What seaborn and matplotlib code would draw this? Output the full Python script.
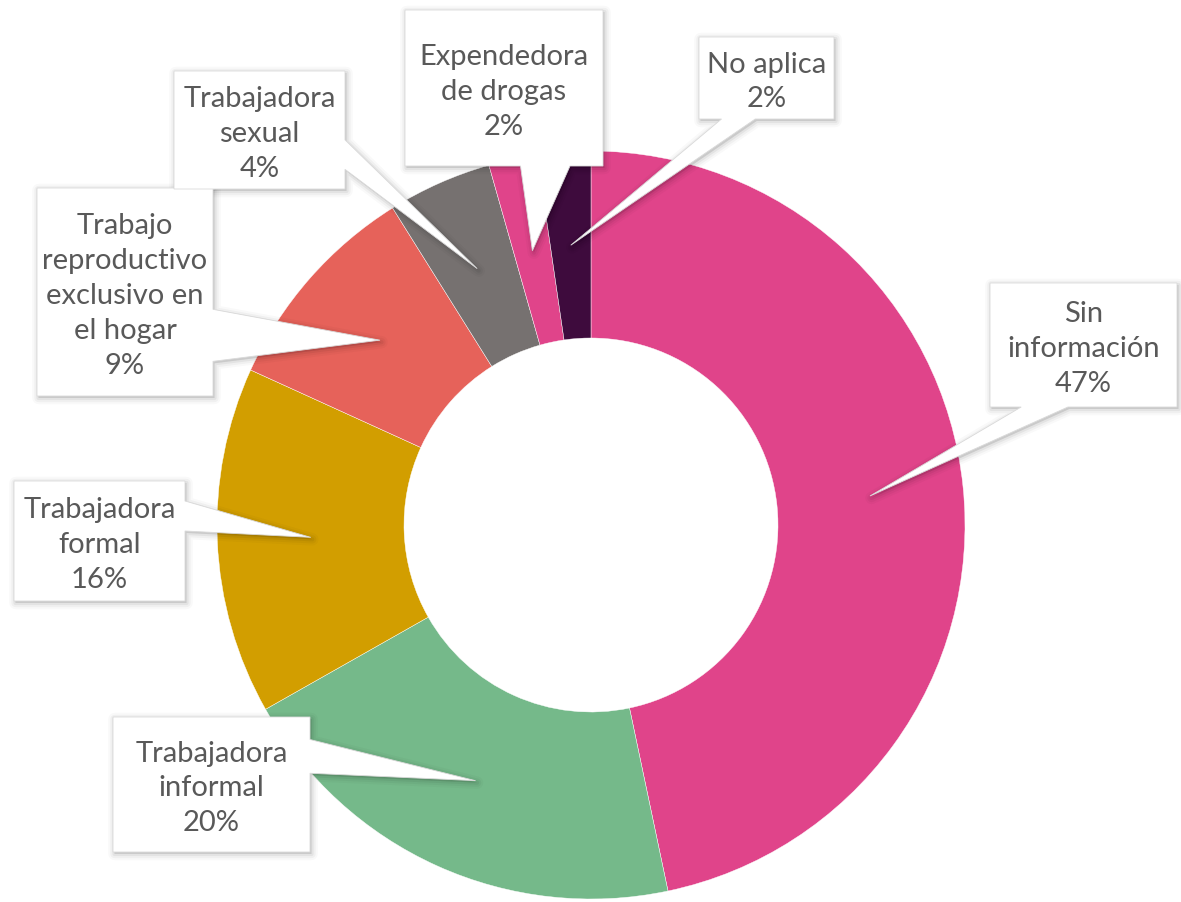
import numpy as np
import matplotlib.pyplot as plt
import seaborn as sns
from matplotlib.patches import Polygon

# data
categories = ["Sin\ninformación", "Trabajadora\ninformal", "Trabajadora\nformal",
              "Trabajo\nreproductivo\nexclusivo en\nel hogar", "Trabajadora\nsexual",
              "Expendedora\nde drogas", "No aplica"]
values = [46.7, 20.1, 15.0, 9.3, 4.5, 2.1, 2.3]
pct_labels = ["47%", "20%", "16%", "9%", "4%", "2%", "2%"]
colors = ["#E0448A", "#75B98A", "#D29E00", "#E6625A", "#767170", "#E0448A", "#3E0B3D"]

# label boxes in pixels (left, top, right, bottom), measured from the top of the image
boxes = [(990, 284, 1177, 408), (113, 718, 310, 853), (14, 482, 185, 602),
         (37, 189, 213, 397), (174, 72, 345, 190), (405, 11, 603, 167),
         (699, 38, 834, 120)]

W, H = 1181, 903
R, R_IN = 374, 187
CENTER = (591, H - 526)

sns.set_theme(style="white")
plt.rcParams['font.family'] = ['Lato', 'DejaVu Sans']

fig = plt.figure(figsize=(W / 100, H / 100), dpi=100)
ax = fig.add_axes([0, 0, 1, 1])

wedges, _ = ax.pie(values, colors=colors, startangle=90, counterclock=False,
                   radius=R, center=CENTER,
                   wedgeprops=dict(width=R - R_IN, edgecolor="white", linewidth=0.3))


def callout_points(box, tip):
    # rectangular callout with a wedge pointer (same rule as office callouts)
    x0, top, x1, bottom = box
    w, h = x1 - x0, top - bottom
    dx = tip[0] - (x0 + x1) / 2
    dy = tip[1] - (top + bottom) / 2
    if abs(dy) > abs(dx * h / w):
        f1, f2 = (7 / 12, 10 / 12) if dx > 0 else (2 / 12, 5 / 12)
        xa, xb = x0 + w * f1, x0 + w * f2
        if dy < 0:
            return [(x0, top), (x1, top), (x1, bottom), (xb, bottom), tip, (xa, bottom), (x0, bottom)]
        return [(x0, top), (xa, top), tip, (xb, top), (x1, top), (x1, bottom), (x0, bottom)]
    f1, f2 = (7 / 12, 10 / 12) if dy < 0 else (2 / 12, 5 / 12)
    ya, yb = top - h * f1, top - h * f2
    if dx > 0:
        return [(x0, top), (x1, top), (x1, ya), tip, (x1, yb), (x1, bottom), (x0, bottom)]
    return [(x0, top), (x1, top), (x1, bottom), (x0, bottom), (x0, yb), tip, (x0, ya)]


r_mid = (R + R_IN) / 2
for wedge, name, pct, (l, t, r, b) in zip(wedges, categories, pct_labels, boxes):
    ang = np.deg2rad((wedge.theta1 + wedge.theta2) / 2)
    tip = (CENTER[0] + r_mid * np.cos(ang), CENTER[1] + r_mid * np.sin(ang))
    box = (l, H - t, r, H - b)
    pts = np.array(callout_points(box, tip))

    # soft shadow
    shadow = pts + np.array([1.5, -2.0])
    for lw, a in [(9, 0.025), (6, 0.035), (3, 0.05)]:
        ax.add_patch(Polygon(shadow, closed=True, facecolor=(0, 0, 0, a),
                             edgecolor=(0, 0, 0, a), lw=lw, joinstyle="round", zorder=3))
    ax.add_patch(Polygon(pts, closed=True, facecolor="white", edgecolor="#D9D9D9",
                         lw=0.6, zorder=4))

    ax.text((l + r) / 2, H - (t + b) / 2 - 3, name + "\n" + pct, ha="center", va="center",
            multialignment="center", fontsize=21, color="#595959", linespacing=1.42, zorder=5)

ax.set_xlim(0, W)
ax.set_ylim(0, H)
ax.set_aspect("equal")
ax.axis("off")

plt.savefig("out.png", dpi=100)
